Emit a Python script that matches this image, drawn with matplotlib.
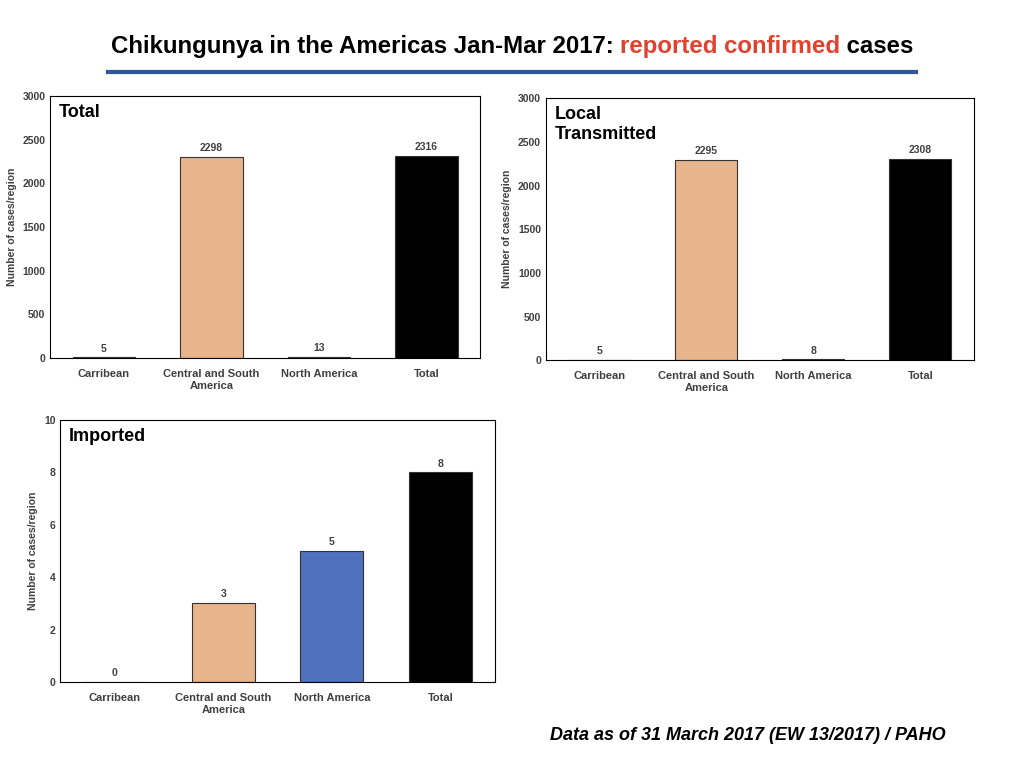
import matplotlib
matplotlib.use("Agg")
import matplotlib.pyplot as plt
from matplotlib.lines import Line2D

plt.rcParams["font.family"] = ["Liberation Sans", "DejaVu Sans"]

regions = ["Carribean", "Central and South\nAmerica", "North America", "Total"]
total_cases = [5, 2298, 13, 2316]
local_cases = [5, 2295, 8, 2308]
imported_cases = [0, 3, 5, 8]
bar_colors = ["#7f7f7f", "#E8B48C", "#4F71BE", "#000000"]

fig = plt.figure(figsize=(10.24, 7.68), dpi=100)


def panel(rect, values, ymax, step, label, label_offset):
    ax = fig.add_axes(rect)
    x = range(len(regions))
    ax.bar(x, values, width=0.58, color=bar_colors, edgecolor="#333333", linewidth=0.8)
    ax.set_ylim(0, ymax)
    ax.set_xlim(-0.5, 3.5)
    ax.set_yticks(range(0, ymax + 1, step))
    ax.set_xticks(list(x))
    ax.set_xticklabels(regions, fontsize=8, fontweight="bold", color="#404040")
    ax.tick_params(axis="y", labelsize=7.5, length=0, labelcolor="#404040")
    ax.tick_params(axis="x", length=0, pad=8)
    for t in ax.get_yticklabels():
        t.set_fontweight("bold")
    ax.set_ylabel("Number of cases/region", fontsize=7.5, fontweight="bold", color="#404040")
    for xi, v in zip(x, values):
        ax.text(xi, v + ymax * label_offset, str(v), ha="center", va="bottom",
                fontsize=7.5, fontweight="bold", color="#404040")
    ax.text(0.02, 0.97, label, transform=ax.transAxes, ha="left", va="top",
            fontsize=13, fontweight="bold")
    return ax


panel([0.049, 0.534, 0.42, 0.341], total_cases, 3000, 500, "Total", 0.015)
panel([0.533, 0.531, 0.418, 0.341], local_cases, 3000, 500, "Local\nTransmitted", 0.015)
panel([0.059, 0.112, 0.424, 0.341], imported_cases, 10, 2, "Imported", 0.015)

# title in three colored pieces
fig.canvas.draw()
r = fig.canvas.get_renderer()
parts = [("Chikungunya in the Americas Jan-Mar 2017: ", "black"),
         ("reported confirmed", "#E2412E"),
         (" cases", "black")]
texts = []
for s, c in parts:
    texts.append(fig.text(0, 0.94, s, color=c, fontsize=17.3, fontweight="bold", va="center"))
widths = [t.get_window_extent(r).width / fig.bbox.width for t in texts]
x0 = 0.5 - sum(widths) / 2
for t, w in zip(texts, widths):
    t.set_x(x0)
    x0 += w

fig.add_artist(Line2D([0.105, 0.895], [0.906, 0.906], color="#2F5597", linewidth=3))
fig.text(0.923, 0.037, "Data as of 31 March 2017 (EW 13/2017) / PAHO", ha="right",
         fontsize=13, fontweight="bold", style="italic")

fig.savefig("out.png", dpi=100)
